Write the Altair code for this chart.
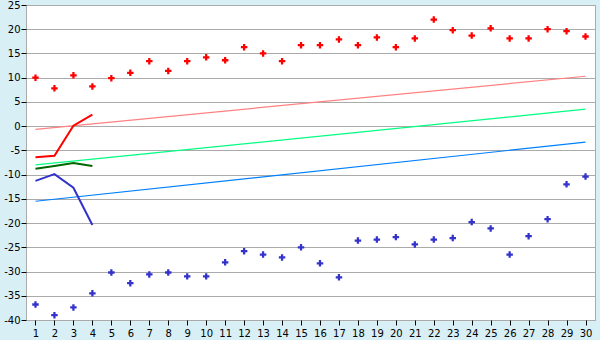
import altair as alt
import pandas as pd

days = list(range(1, 31))
red_pts = [10.0, 7.8, 10.5, 8.2, 9.9, 11.0, 13.4, 11.4, 13.4, 14.2,
           13.6, 16.3, 15.0, 13.4, 16.7, 16.7, 17.9, 16.7, 18.3, 16.3,
           18.1, 22.0, 19.8, 18.7, 20.2, 18.1, 18.1, 20.0, 19.6, 18.5]
blue_pts = [-36.8, -39.0, -37.4, -34.5, -30.2, -32.4, -30.6, -30.2, -31.0, -31.0,
            -28.1, -25.8, -26.5, -27.1, -25.0, -28.3, -31.2, -23.6, -23.4, -22.9,
            -24.4, -23.4, -23.1, -19.8, -21.1, -26.5, -22.7, -19.2, -12.0, -10.4]
line_days = [1, 2, 3, 4]
red_line = [-6.4, -6.1, 0.1, 2.4]
green_line = [-8.8, -8.2, -7.6, -8.2]
blue_line = [-11.3, -9.9, -12.7, -20.4]
trend_days = [1, 30]
pink_trend = [-0.65, 10.3]
green_trend = [-8.0, 3.5]
blue_trend = [-15.5, -3.3]
y_ticks = list(range(-40, 30, 5))

pts = pd.DataFrame({
    "day": days * 2,
    "v": red_pts + blue_pts,
    "s": ["red"] * 30 + ["blue"] * 30,
})
lines = pd.DataFrame({
    "day": line_days * 3,
    "v": red_line + green_line + blue_line,
    "s": ["r"] * 4 + ["g"] * 4 + ["b"] * 4,
})
trends = pd.DataFrame({
    "day": trend_days * 3,
    "v": pink_trend + green_trend + blue_trend,
    "s": ["tp", "tp", "tg", "tg", "tb", "tb"],
})

xs = alt.Scale(domain=[0.5, 30.5], nice=False, zero=False)
ys = alt.Scale(domain=[-40, 25], nice=False, zero=False)
xax = alt.Axis(values=days, grid=False, title=None, tickSize=5, labelPadding=3,
               domain=False, tickColor="#000000", labelFont="DejaVu Sans",
               labelFontSize=10, labelColor="#000000", labelFlush=False)
yax = alt.Axis(values=y_ticks, grid=True, gridColor="#aaaaaa", title=None,
               tickSize=5, labelPadding=1, domain=False, tickColor="#000000",
               labelFont="DejaVu Sans", labelFontSize=10, labelColor="#000000",
               labelExpr="toString(datum.value)")

x = alt.X("day:Q", scale=xs, axis=xax)
y = alt.Y("v:Q", scale=ys, axis=yax)

plus = "M-0.35,-1H0.35V-0.35H1V0.35H0.35V1H-0.35V0.35H-1V-0.35H-0.35Z"

trend_layer = alt.Chart(trends).mark_line(strokeWidth=1.2, interpolate="linear").encode(
    x=x, y=y, detail="s:N",
    color=alt.Color("s:N", scale=alt.Scale(domain=["tp", "tg", "tb"],
                                           range=["#ff8080", "#00ff80", "#0080ff"]), legend=None),
)
line_layer = alt.Chart(lines).mark_line(strokeWidth=2).encode(
    x=x, y=y, detail="s:N",
    color=alt.Color("s:N", scale=alt.Scale(domain=["r", "g", "b"],
                                           range=["#ff0000", "#006600", "#3333cc"]), legend=None),
    strokeWidth=alt.StrokeWidth("s:N", scale=alt.Scale(domain=["r", "g", "b"], range=[2, 3, 2]), legend=None),
)
pt_layer = alt.Chart(pts).mark_point(shape=plus, filled=True, size=42, opacity=1).encode(
    x=x, y=y,
    color=alt.Color("s:N", scale=alt.Scale(domain=["red", "blue"],
                                           range=["#ff0000", "#3333cc"]), legend=None),
)

chart = alt.layer(trend_layer, line_layer, pt_layer).resolve_scale(
    color="independent", strokeWidth="independent"
).properties(
    width=569, height=315,
    autosize=alt.AutoSizeParams(type="none"),
    padding={"left": 26, "top": 5, "right": 5, "bottom": 20},
    background="#d9eff6",
).configure_view(
    fill="#ffffff", stroke="#aaaaaa", strokeWidth=1,
)

chart.save("out.html", embed_options={"renderer": "svg", "actions": False})
